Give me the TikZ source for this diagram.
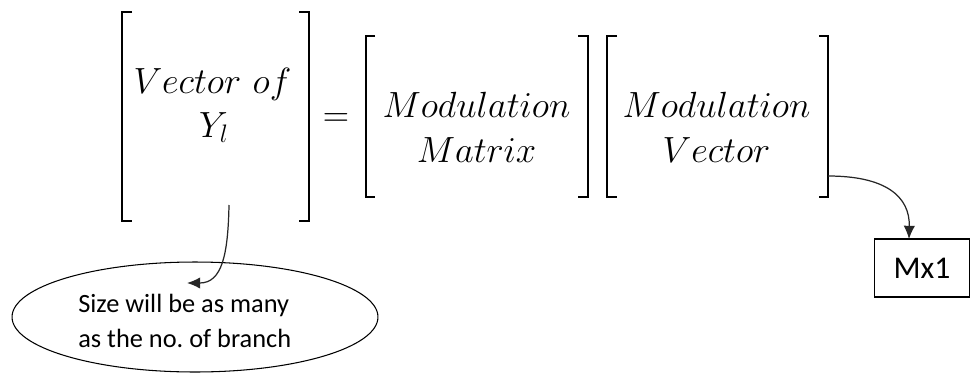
\documentclass[tikz,border=0pt]{standalone}
\usepackage[no-math]{fontspec}
\newfontfamily\calibri{Carlito}
\usepackage{tikz}
\usetikzlibrary{shapes.geometric}
\usetikzlibrary{arrows.meta}

\begin{document}
\begin{tikzpicture}[x=0.02cm, y=-0.02cm]
    \useasboundingbox (0,0) rectangle (971,376);
    \tikzset{
        brk/.style={line width=1.5pt},
        eq/.style={anchor=base, inner sep=0pt, font=\fontsize{21.8}{26}\selectfont},
        conn/.style={-{Latex[length=7.5pt,width=6.5pt]}, line width=0.7pt, black!85},
        note/.style={font=\calibri\fontsize{15}{19.8}\selectfont}
    }

    % Brackets
    \draw[brk] (132,12) -- (122,12) -- (122,221) -- (132,221);
    \draw[brk] (299,12) -- (309,12) -- (309,221) -- (299,221);
    \draw[brk] (375,36) -- (366,36) -- (366,197) -- (375,197);
    \draw[brk] (578,36) -- (588,36) -- (588,197) -- (578,197);
    \draw[brk] (617,36) -- (607,36) -- (607,197) -- (617,197);
    \draw[brk] (819,36) -- (828,36) -- (828,197) -- (819,197);

    % Terms
    \node[eq] (vecof) at (212.5,93) {$Vector\ of$};
    \node[eq] (yl) at (214,137) {$Y_l$};
    \node[eq] (eqsign) at (336,126) {$=$};
    \node[eq] (modtop) at (476.5,117) {$Modulation$};
    \node[eq] (matrix) at (476.5,162) {$Matrix$};
    \node[eq] (modtop2) at (716.5,117) {$Modulation$};
    \node[eq] (vector) at (716.5,162) {$Vector$};

    % Notes
    \node[ellipse, draw, line width=0.6pt, minimum width=7.32cm, minimum height=2.2cm] (sizenote) at (195,317) {};
    \node[note, anchor=base west, inner sep=0pt] (sizetext) at (78,312) {Size will be as many};
    \node[note, anchor=base west, inner sep=0pt] (sizetext2) at (78,347) {as the no.\ of branch};
    \node[draw, line width=0.8pt, minimum width=1.9cm, minimum height=1.16cm,
          font=\calibri\fontsize{18}{22}\selectfont] (mx) at (922,268) {Mx1};

    % Connectors
    \coordinate (ytail) at (229,205);
    \coordinate (ytip) at (187,283);
    \coordinate (vtail) at (828,176);
    \coordinate (mxtop) at (909,239);
    \draw[conn] (ytail) .. controls (228,255) and (222,283) .. (ytip);
    \draw[conn] (vtail) .. controls (885,176) and (910,196) .. (mxtop);
\end{tikzpicture}
\end{document}
